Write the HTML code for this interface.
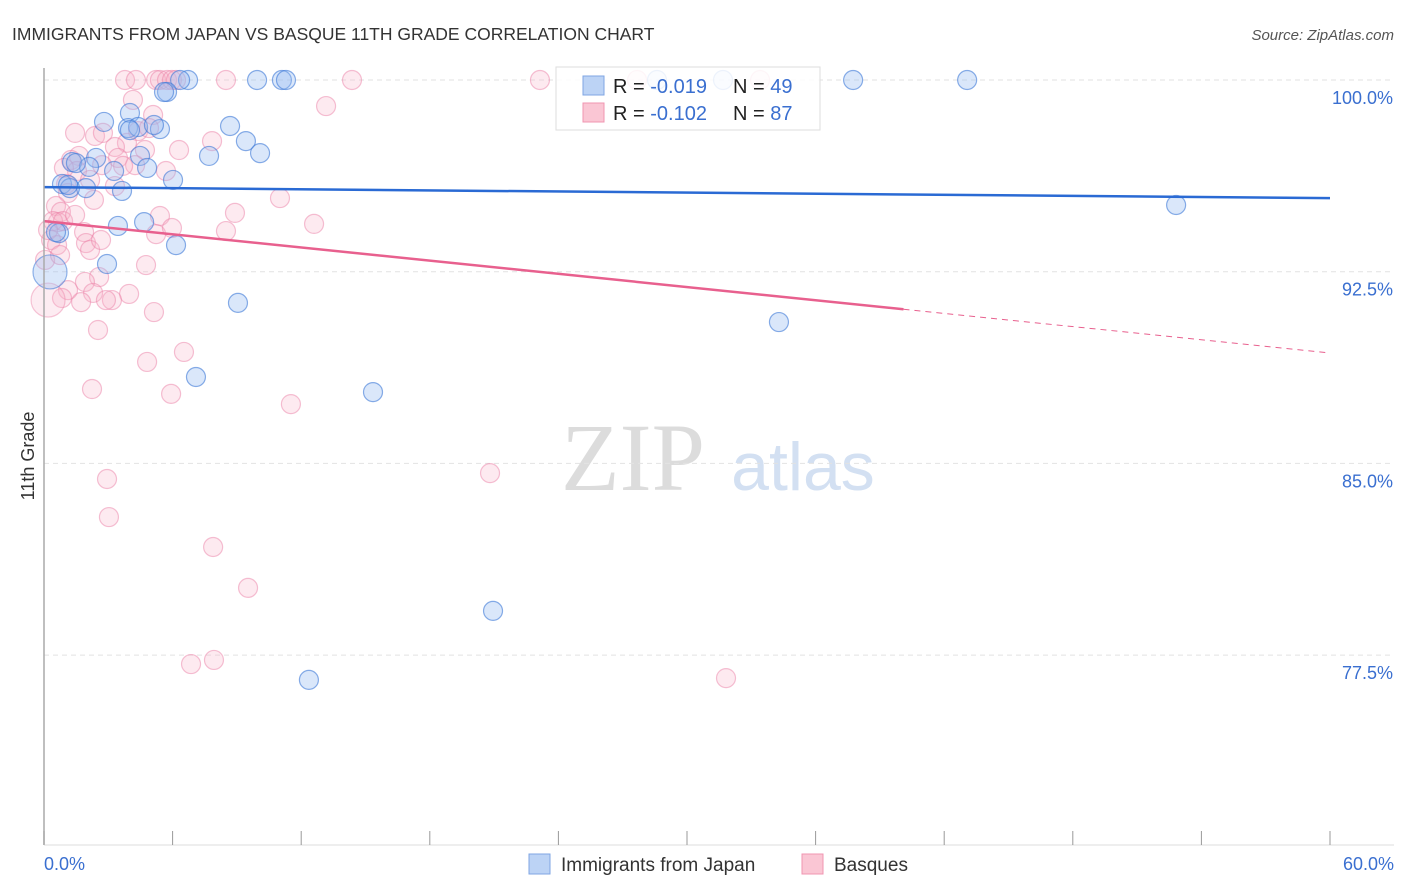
<!DOCTYPE html>
<html><head><meta charset="utf-8"><style>
body{margin:0;background:#fff;font-family:"Liberation Sans",sans-serif;}
#c{position:relative;width:1406px;height:892px;overflow:hidden;}
</style></head><body><div id="c">
<svg id="s" width="1406" height="892" xmlns="http://www.w3.org/2000/svg">
<text x="12" y="40" font-size="17.5" fill="#333">IMMIGRANTS FROM JAPAN VS BASQUE 11TH GRADE CORRELATION CHART</text>
<text x="1394" y="40" font-size="15" fill="#555" font-style="italic" text-anchor="end">Source: ZipAtlas.com</text>
<text x="34" y="456" font-size="18" fill="#333" text-anchor="middle" transform="rotate(-90 34 456)">11th Grade</text>
<text x="633" y="490" font-size="96" fill="#dcdcdc" font-family="Liberation Serif,serif" text-anchor="middle">ZIP</text>
<text x="803" y="490" font-size="68" fill="#d3e0f2" text-anchor="middle">atlas</text>
<g id="grid"></g><g id="pts"></g><g id="lines"></g>
<line x1="44" y1="68" x2="44" y2="845" stroke="#aaa" stroke-width="1.5"/>
<line x1="44" y1="845" x2="1394" y2="845" stroke="#ddd" stroke-width="1"/>
<g id="ticks"></g>
<text x="44" y="870" font-size="18" fill="#3a6fd0">0.0%</text>
<text x="1394" y="870" font-size="18" fill="#3a6fd0" text-anchor="end">60.0%</text>
<g>
<rect x="556" y="67" width="264" height="63" fill="rgba(255,255,255,0.85)" stroke="#ddd"/>
<rect x="583" y="76" width="21" height="19" fill="#bcd3f5" stroke="#7fa6e3"/>
<rect x="583" y="103" width="21" height="19" fill="#fac6d4" stroke="#f095b1"/>
<text x="613" y="93" font-size="20" fill="#222">R = <tspan fill="#3a6fd0">-0.019</tspan></text>
<text x="733" y="93" font-size="20" fill="#222">N = <tspan fill="#3a6fd0">49</tspan></text>
<text x="613" y="120" font-size="20" fill="#222">R = <tspan fill="#3a6fd0">-0.102</tspan></text>
<text x="733" y="120" font-size="20" fill="#222">N = <tspan fill="#3a6fd0">87</tspan></text>
</g>
<g>
<rect x="529" y="854" width="21" height="20" fill="#bcd3f5" stroke="#7fa6e3"/>
<text x="561" y="871" font-size="19" fill="#333">Immigrants from Japan</text>
<rect x="802" y="854" width="21" height="20" fill="#fac6d4" stroke="#f095b1"/>
<text x="834" y="871" font-size="19" fill="#333">Basques</text>
</g>
</svg></div>
<script>
const yTicks=[100,92.5,85,77.5];
const yTickLabels=["100.0%","92.5%","85.0%","77.5%"];
const xTicks=[0,6,12,18,24,30,36,42,48,54,60];
const japanX=[28.60,31.68,37.75,43.07,9.94,11.10,11.29,6.72,6.35,5.74,5.60,2.80,4.01,3.92,4.39,5.41,5.13,8.68,9.42,10.08,7.70,4.48,4.81,2.43,1.31,2.10,3.27,6.02,0.84,1.96,3.64,1.21,52.82,4.67,3.45,0.70,6.16,2.94,9.05,34.29,7.09,15.35,20.95,12.36,1.49,1.12,0.56,4.01];
const japanY=[100,100,100,100,100,100,100,100,100,99.53,99.53,98.36,98.71,98.12,98.16,98.08,98.24,98.20,97.61,97.14,97.03,97.03,96.56,96.95,96.79,96.60,96.44,96.09,95.93,95.77,95.66,95.77,95.11,94.44,94.29,94.01,93.54,92.80,91.28,90.53,88.38,87.79,79.23,76.53,96.75,95.89,94.05,98.04];
const japanBigX=[0.28];
const japanBigY=[92.49];
const basqueX=[3.78,4.29,5.23,5.41,5.74,5.97,6.16,8.49,14.37,23.14,27.67,33.41,13.16,4.15,5.09,1.45,2.38,2.75,4.39,4.90,3.87,3.31,6.30,7.84,4.71,1.63,3.45,1.26,2.71,4.25,3.69,1.54,0.93,1.03,2.15,3.31,1.12,2.33,5.69,11.01,0.56,0.79,0.65,0.42,0.89,0.33,1.87,0.61,1.96,2.15,2.66,5.41,8.91,8.49,5.23,5.97,12.60,4.76,2.57,1.91,1.12,2.29,3.97,3.17,2.89,0.84,1.73,5.13,2.52,6.53,4.81,2.24,5.93,11.52,20.81,2.94,3.03,7.89,9.52,6.86,7.93,31.82,0.05,0.19,0.75,1.45];
const basqueY=[100,100,100,100,100,100,100,100,100,100,100,100,98.98,99.22,98.63,97.93,97.81,97.93,98.00,98.12,97.54,97.38,97.26,97.61,97.26,97.03,96.95,96.87,96.67,96.67,96.64,96.44,96.56,95.93,96.09,95.85,95.58,95.31,96.44,95.38,95.07,94.84,94.44,94.48,94.48,93.74,94.05,93.54,93.62,93.35,93.74,94.68,94.80,94.09,93.97,94.21,94.37,92.76,92.29,92.10,91.78,91.67,91.63,91.39,91.39,91.47,91.31,90.92,90.22,89.36,88.97,87.91,87.72,87.32,84.62,84.39,82.90,81.73,80.13,77.15,77.31,76.60,92.96,94.13,93.15,94.72];
const basqueBigX=[0.19];
const basqueBigY=[91.39];
const japanTrend=[95.81,95.38];
const basqueTrend=[94.48,89.32];
const basqueSolidEnd=40.1;

const sx=v=>44+v/60*1286;
const sy=v=>80+(100-v)/7.5*191.7;
const NS="http://www.w3.org/2000/svg";
function mk(tag,attrs,parent){const e=document.createElementNS(NS,tag);for(const k in attrs)e.setAttribute(k,attrs[k]);document.getElementById(parent).appendChild(e);return e;}
yTicks.forEach((t,i)=>{
 const l=mk('line',{x1:44,x2:1394,y1:sy(t),y2:sy(t),stroke:'#e2e2e2','stroke-dasharray':'5,4'},'grid');
 
 
 const tx=mk('text',{x:1393,y:sy(t)+24,'font-size':18,fill:'#3a6fd0','text-anchor':'end'},'grid');
 tx.textContent=yTickLabels[i];
 
 
});
xTicks.forEach(t=>{
 const l=mk('line',{x1:sx(t),x2:sx(t),y1:831,y2:845,stroke:'#999'},'ticks');
 
 
});
function dots(X,Y,r,fill,stroke,name){X.forEach((x,i)=>{
 const c=mk('circle',{cx:sx(x),cy:sy(Y[i]),r:r,fill:fill,stroke:stroke,'stroke-width':1.2},'pts');
 
 
});}
dots(basqueX,basqueY,9.5,'rgba(248,180,202,0.28)','rgba(236,130,168,0.5)','basque-point');
dots(basqueBigX,basqueBigY,17,'rgba(248,180,202,0.25)','rgba(236,130,168,0.45)','basque-point');
dots(japanX,japanY,9.5,'rgba(150,185,240,0.35)','rgba(60,120,215,0.6)','japan-point');
dots(japanBigX,japanBigY,17,'rgba(150,185,240,0.35)','rgba(60,120,215,0.55)','japan-point');
const lb=mk('line',{x1:sx(0),y1:sy(japanTrend[0]),x2:sx(60),y2:sy(japanTrend[1]),stroke:'#2a6ad4','stroke-width':2.5},'lines');


const ye=basqueTrend[0]+(basqueTrend[1]-basqueTrend[0])*basqueSolidEnd/60;
const lp=mk('line',{x1:sx(0),y1:sy(basqueTrend[0]),x2:sx(basqueSolidEnd),y2:sy(ye),stroke:'#e8608e','stroke-width':2.5},'lines');


const ld=mk('line',{x1:sx(basqueSolidEnd),y1:sy(ye),x2:sx(60),y2:sy(basqueTrend[1]),stroke:'#e8608e','stroke-width':1,'stroke-dasharray':'6,5'},'lines');


</script></body></html>
